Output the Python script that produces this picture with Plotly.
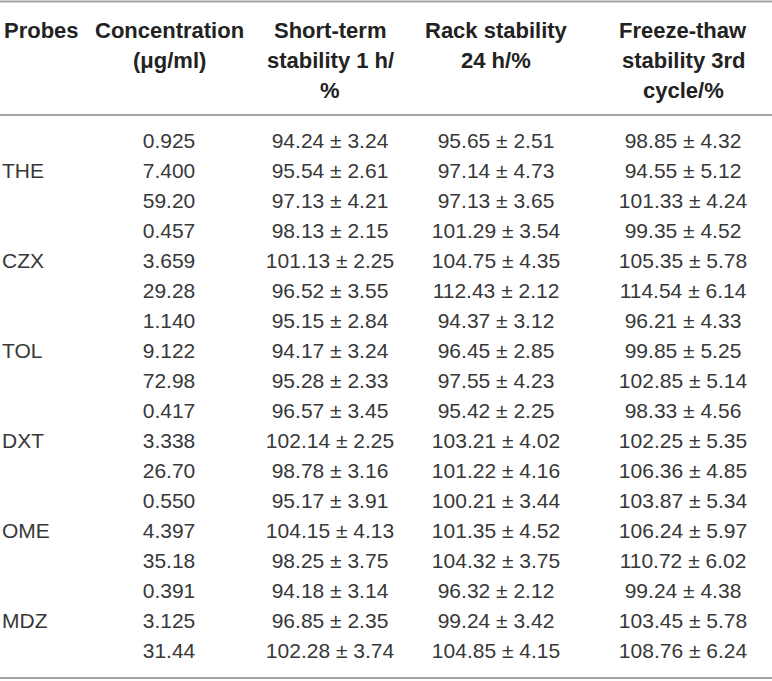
import plotly.graph_objects as go

# table contents
headers = ["Probes", "Concentration<br>(μg/ml)", "Short-term<br>stability 1 h/<br>%",
           "Rack stability<br>24 h/%", "Freeze-thaw<br>stability 3rd<br>cycle/%"]
probes = ["THE", "CZX", "TOL", "DXT", "OME", "MDZ"]
concentration = ["0.925", "7.400", "59.20", "0.457", "3.659", "29.28",
                 "1.140", "9.122", "72.98", "0.417", "3.338", "26.70",
                 "0.550", "4.397", "35.18", "0.391", "3.125", "31.44"]
short_term = ["94.24 ± 3.24", "95.54 ± 2.61", "97.13 ± 4.21", "98.13 ± 2.15",
              "101.13 ± 2.25", "96.52 ± 3.55", "95.15 ± 2.84", "94.17 ± 3.24",
              "95.28 ± 2.33", "96.57 ± 3.45", "102.14 ± 2.25", "98.78 ± 3.16",
              "95.17 ± 3.91", "104.15 ± 4.13", "98.25 ± 3.75", "94.18 ± 3.14",
              "96.85 ± 2.35", "102.28 ± 3.74"]
rack = ["95.65 ± 2.51", "97.14 ± 4.73", "97.13 ± 3.65", "101.29 ± 3.54",
        "104.75 ± 4.35", "112.43 ± 2.12", "94.37 ± 3.12", "96.45 ± 2.85",
        "97.55 ± 4.23", "95.42 ± 2.25", "103.21 ± 4.02", "101.22 ± 4.16",
        "100.21 ± 3.44", "101.35 ± 4.52", "104.32 ± 3.75", "96.32 ± 2.12",
        "99.24 ± 3.42", "104.85 ± 4.15"]
freeze_thaw = ["98.85 ± 4.32", "94.55 ± 5.12", "101.33 ± 4.24", "99.35 ± 4.52",
               "105.35 ± 5.78", "114.54 ± 6.14", "96.21 ± 4.33", "99.85 ± 5.25",
               "102.85 ± 5.14", "98.33 ± 4.56", "102.25 ± 5.35", "106.36 ± 4.85",
               "103.87 ± 5.34", "106.24 ± 5.97", "110.72 ± 6.02", "99.24 ± 4.38",
               "103.45 ± 5.78", "108.76 ± 6.24"]

# layout in pixels
W, H = 772, 681
col_x = [2, 169, 330, 496, 683]
row0, pitch = 143, 30
head0, head_pitch = 30, 30
rule_color = "#a3a3a3"
font_family = "Liberation Sans, Arial, sans-serif"
body_font = dict(family=font_family, size=21, color="#383838")
head_font = dict(family=font_family, size=22, color="#222222")

n = len(concentration)
row_y = [row0 + pitch * i for i in range(n)]
probe_y = [row0 + pitch * (3 * k + 1) for k in range(len(probes))]

fig = go.Figure()
fig.add_trace(go.Scatter(x=[col_x[0]] * len(probes), y=probe_y, text=probes,
                         mode="text", textposition="middle right",
                         textfont=body_font, hoverinfo="skip"))
for x, col in zip(col_x[1:], [concentration, short_term, rack, freeze_thaw]):
    fig.add_trace(go.Scatter(x=[x] * n, y=row_y, text=col, mode="text",
                             textposition="middle center", textfont=body_font,
                             hoverinfo="skip"))

# header, one annotation per line so the line spacing follows the original
for i, (x, h) in enumerate(zip(col_x, headers)):
    for j, line in enumerate(h.split("<br>")):
        fig.add_annotation(x=x, y=head0 + head_pitch * j, text="<b>" + line + "</b>",
                           showarrow=False, xanchor="left" if i == 0 else "center",
                           yanchor="middle", font=head_font)

for y in [1.5, 115, 678]:
    fig.add_shape(type="line", x0=0, x1=W, y0=y, y1=y,
                  line=dict(color=rule_color, width=2))

fig.update_layout(
    width=W, height=H, margin=dict(l=0, r=0, t=0, b=0),
    paper_bgcolor="white", plot_bgcolor="white", showlegend=False,
    xaxis=dict(range=[0, W], visible=False, fixedrange=True),
    yaxis=dict(range=[H, 0], visible=False, fixedrange=True),
)
# drop the default page margin so the figure sits at the window corner
fig.write_html("out.html", config={"displayModeBar": False},
               post_script="document.body.style.margin='0';")
